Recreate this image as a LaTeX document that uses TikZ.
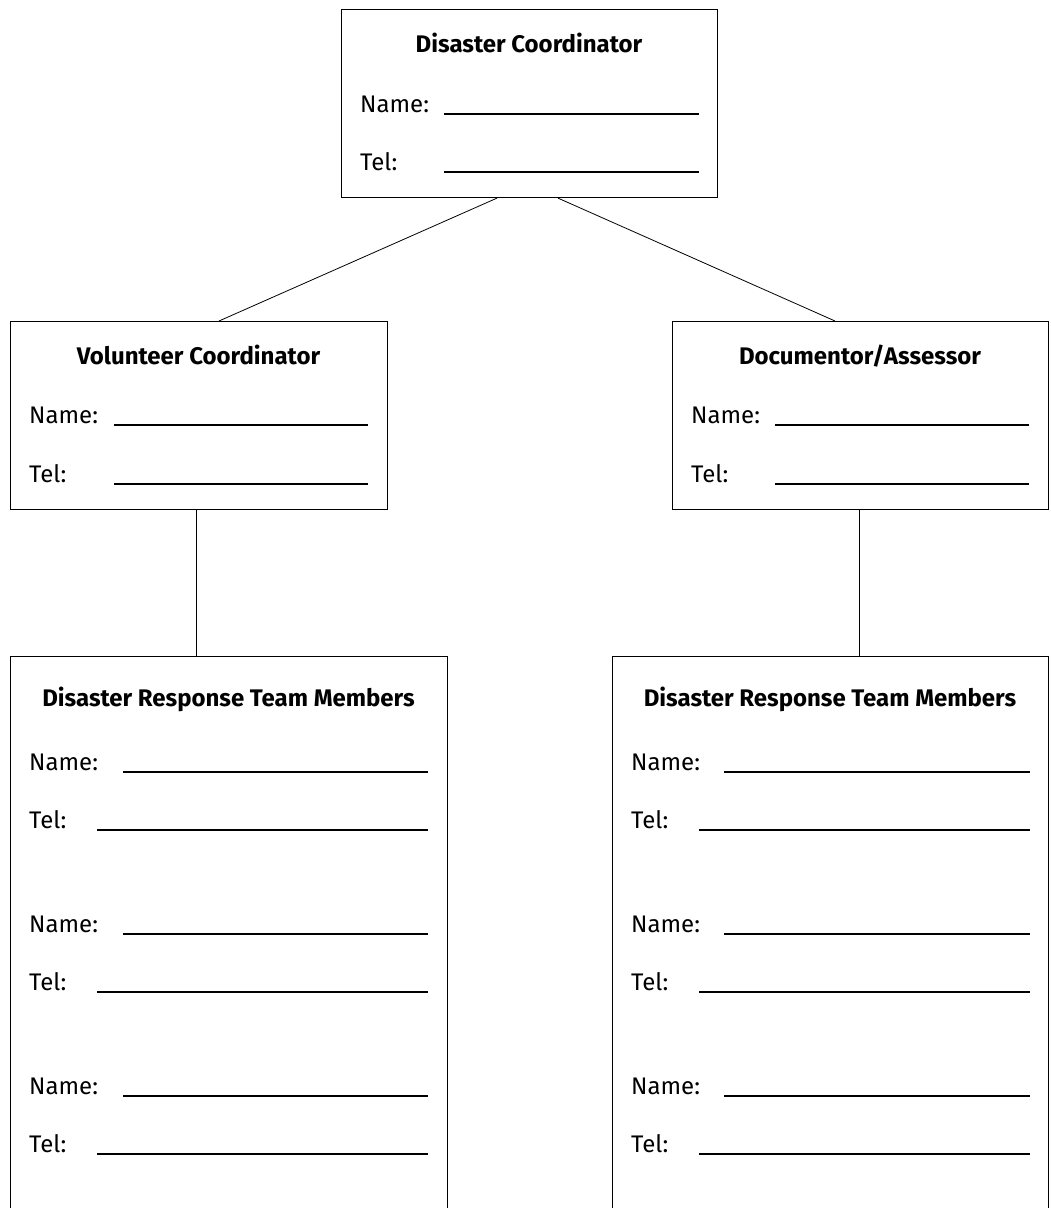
\documentclass[tikz,border=0pt]{standalone}
\usepackage{fontspec}
\setmainfont{Fira Sans}
\usetikzlibrary{calc}
\begin{document}
\begin{tikzpicture}[x=1pt,y=-1pt,
  box/.style={draw=black,line width=1.1pt,fill=white,inner sep=0pt,anchor=north west},
  conn/.style={draw=black,line width=0.8pt},
  ttl/.style={anchor=base,inner sep=0pt,font=\fontsize{24}{27}\selectfont\bfseries},
  lbl/.style={anchor=base west,inner sep=0pt,font=\fontsize{24}{27}\selectfont},
  blank/.style={draw=black,line width=1.2pt}]
\clip (0,0) rectangle (1051,1208);
\fill[white] (0,0) rectangle (1051,1208);
% boxes
\node[box,minimum width=376pt,minimum height=188pt] (dc) at (341,9) {};
\node[box,minimum width=377pt,minimum height=188pt] (vc) at (10,321) {};
\node[box,minimum width=376pt,minimum height=188pt] (da) at (672,321) {};
\node[box,minimum width=437pt,minimum height=600pt] (bl) at (10,656) {};
\node[box,minimum width=436pt,minimum height=600pt] (br) at (612,656) {};
% connectors
\coordinate (dcL) at ($(dc.south west)+(156,0)$);
\coordinate (dcR) at ($(dc.south west)+(217,0)$);
\draw[conn] (dcL) -- ($(vc.north west)+(209,0)$);
\draw[conn] (dcR) -- ($(da.north west)+(163,0)$);
\coordinate (vcB) at ($(vc.south west)+(186,0)$);
\coordinate (daB) at ($(da.south west)+(187,0)$);
\draw[conn] (vcB) -- (vcB |- bl.north);
\draw[conn] (daB) -- (daB |- br.north);
% top box
\node[ttl] (t1) at (529,52) {Disaster Coordinator};
\node[lbl] (n1) at (360,112) {Name:};
\node[lbl] (l1) at (360,170) {Tel:};
\draw[blank] (444,114) -- (699,114);
\draw[blank] (444,172) -- (699,172);
% volunteer
\node[ttl] (t2) at (198.5,364) {Volunteer Coordinator};
\node[lbl] (n2) at (29,423) {Name:};
\node[lbl] (l2) at (29,482) {Tel:};
\draw[blank] (114,425) -- (368,425);
\draw[blank] (114,484) -- (368,484);
% documentor
\node[ttl] (t3) at (860,364) {Documentor/Assessor};
\node[lbl] (n3) at (691,423) {Name:};
\node[lbl] (l3) at (691,482) {Tel:};
\draw[blank] (775,425) -- (1029,425);
\draw[blank] (775,484) -- (1029,484);
% bottom boxes
\node[ttl] (t4) at (228.5,706) {Disaster Response Team Members};
\node[ttl] (t5) at (830,706) {Disaster Response Team Members};
\foreach \y [count=\i] in {770,932,1094}{
  \node[lbl] (bln\i) at (29,\y) {Name:};
  \node[lbl] (blt\i) at (29,\y+58) {Tel:};
  \draw[blank] (123,\y+2) -- (428,\y+2);
  \draw[blank] (97,\y+60) -- (428,\y+60);
  \node[lbl] (brn\i) at (631,\y) {Name:};
  \node[lbl] (brt\i) at (631,\y+58) {Tel:};
  \draw[blank] (724,\y+2) -- (1030,\y+2);
  \draw[blank] (699,\y+60) -- (1030,\y+60);
}
\end{tikzpicture}
\end{document}
